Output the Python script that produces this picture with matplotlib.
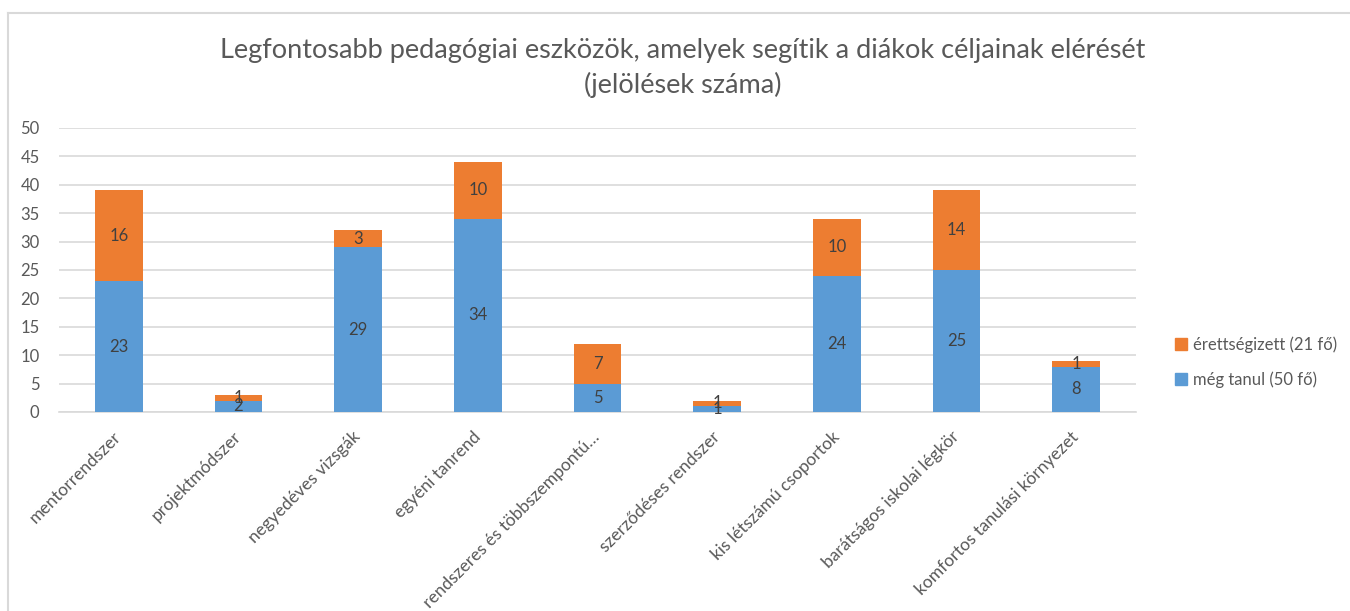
import matplotlib
matplotlib.use("Agg")
import matplotlib.pyplot as plt
import numpy as np
from matplotlib.patches import Rectangle
from matplotlib.lines import Line2D

categories = ["mentorrendszer", "projektmódszer", "negyedéves vizsgák", "egyéni tanrend",
              "rendszeres és többszempontú…", "szerződéses rendszer", "kis létszámú csoportok",
              "barátságos iskolai légkör", "komfortos tanulási környezet"]
still_learning = [23, 2, 29, 34, 5, 1, 24, 25, 8]
graduated = [16, 1, 3, 10, 7, 1, 10, 14, 1]
series_names = ["még tanul (50 fő)", "érettségizett (21 fő)"]
title = "Legfontosabb pedagógiai eszközök, amelyek segítik a diákok céljainak elérését\n(jelölések száma)"
yticks = [0, 5, 10, 15, 20, 25, 30, 35, 40, 45, 50]

plt.rcParams['font.family'] = ['Lato', 'DejaVu Sans']
BLUE = "#5B9BD5"
ORANGE = "#ED7D31"
GRAY = "#595959"
LABEL = "#404040"

fig = plt.figure(figsize=(13.5, 6.11), dpi=100)
# outer chart frame
fig.add_artist(Line2D([8/1350, 1], [1-13/611, 1-13/611], transform=fig.transFigure, color="#D9D9D9", lw=1.5))
fig.add_artist(Line2D([8/1350, 8/1350], [0, 1-13/611], transform=fig.transFigure, color="#D9D9D9", lw=1.5))

ax = fig.add_axes([59/1350, 1-412/611, (1136-59)/1350, (412-128)/611])
x = np.arange(len(categories))
w = 0.40
b1 = ax.bar(x, still_learning, w, color=BLUE, label=series_names[0], zorder=3)
b2 = ax.bar(x, graduated, w, bottom=still_learning, color=ORANGE, label=series_names[1], zorder=3)
for bars in (b1, b2):
    ax.bar_label(bars, label_type='center', color=LABEL, fontsize=12)

ax.set_xlim(-0.5, len(categories) - 0.5)
ax.set_ylim(0, 50)
ax.set_yticks(yticks)
ax.yaxis.grid(True, color="#D9D9D9", lw=1.2, zorder=0)
ax.set_axisbelow(True)
for s in ["top", "right", "left"]:
    ax.spines[s].set_visible(False)
ax.spines["bottom"].set_color("#D9D9D9")
ax.spines["bottom"].set_linewidth(1.2)
ax.tick_params(axis='both', length=0, colors=GRAY, labelsize=12)
ax.tick_params(axis='y', pad=14)
ax.set_xticks(x)
ax.set_xticklabels(categories, rotation=45, ha='right', va='center', rotation_mode='anchor',
                   color=GRAY, fontsize=12.5)
ax.tick_params(axis='x', pad=16)

fig.text(683/1350, 1-68/611, title, ha='center', va='center', fontsize=19.5, color=GRAY, linespacing=1.4)

handles = [Rectangle((0, 0), 1, 1, color=ORANGE), Rectangle((0, 0), 1, 1, color=BLUE)]
fig.legend(handles, [series_names[1], series_names[0]], loc='center left',
           bbox_to_anchor=(1160/1350, 1-362/611), frameon=False, fontsize=12,
           labelcolor=GRAY, handlelength=0.7, handleheight=0.7, handletextpad=0.4,
           labelspacing=1.1)

fig.savefig("out.png", dpi=100)
